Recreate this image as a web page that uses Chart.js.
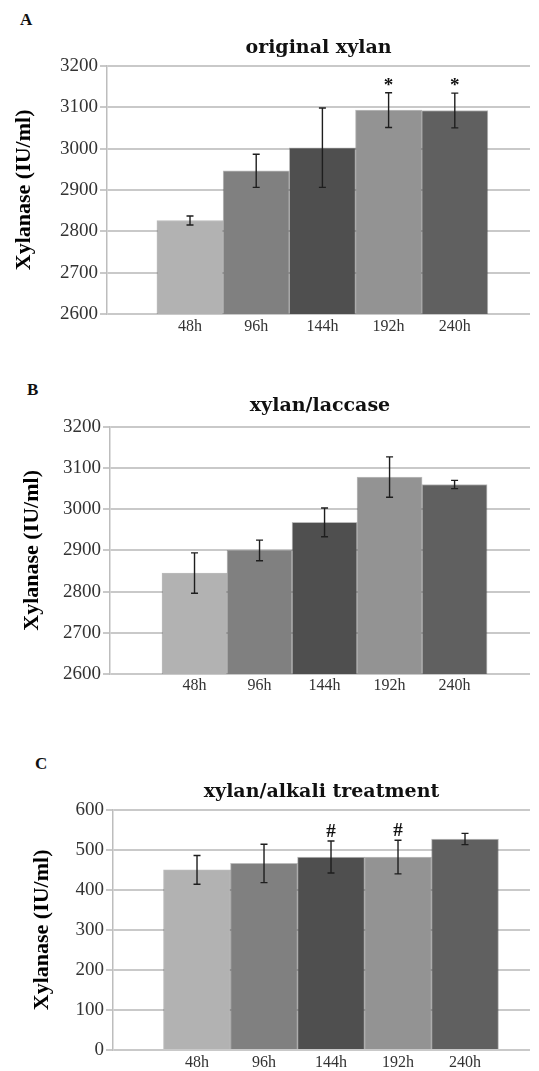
<!DOCTYPE html>
<html>
<head>
<meta charset="utf-8">
<script src="https://cdn.jsdelivr.net/npm/chart.js@4.4.0/dist/chart.umd.min.js"></script>
<style>
  html, body { margin: 0; padding: 0; background: #ffffff; }
  body { width: 539px; height: 1071px; position: relative; overflow: hidden; }
  .panel { position: absolute; left: 0; width: 539px; }
  .lbl { position: absolute; font: bold 17px "Liberation Serif", serif; color: #111; line-height: 1; }
</style>
</head>
<body>
<div class="lbl" style="left:20px;top:11px">A</div>
<div class="lbl" style="left:27px;top:381px">B</div>
<div class="lbl" style="left:35px;top:755px">C</div>
<div class="panel" style="top:0px;height:344px"><canvas id="cA" width="539" height="344"></canvas></div>
<div class="panel" style="top:360px;height:344px"><canvas id="cB" width="539" height="344"></canvas></div>
<div class="panel" style="top:740px;height:340px"><canvas id="cC" width="539" height="340"></canvas></div>
<script>
// ---- data ----
const categories = ['48h', '96h', '144h', '192h', '240h'];
const barColors = ['#b2b2b2', '#808080', '#4f4f4f', '#939393', '#606060'];

const originalXylan = [2826, 2946, 3002, 3093, 3092];
const originalXylanErr = [11, 40, 96, 42, 42];
const originalXylanMarks = ['', '', '', '*', '*'];

const xylanLaccase = [2845, 2900, 2968, 3078, 3060];
const xylanLaccaseErr = [49, 25, 35, 49, 10];
const xylanLaccaseMarks = ['', '', '', '', ''];

const xylanAlkali = [450, 466, 482, 482, 527];
const xylanAlkaliErr = [36, 48, 40, 42, 14];
const xylanAlkaliMarks = ['', '', '#', '#', ''];

const titles = ['original xylan', 'xylan/laccase', 'xylan/alkali treatment'];
const yTitle = 'Xylanase (IU/ml)';
const yRangeAB = [2600, 3200];
const yRangeC = [0, 600];
const yStep = 100;

// ---- plugin: error bars + significance marks ----
const errorBarPlugin = {
  id: 'errorBars',
  afterDatasetsDraw(chart, args, opts) {
    const { ctx } = chart;
    const xs = chart.scales.x, ys = chart.scales.y;
    const pts = chart.data.datasets[0].data;
    ctx.save();
    ctx.strokeStyle = '#1e1e1e';
    ctx.lineWidth = 1.4;
    pts.forEach((p, i) => {
      const e = opts.errors[i];
      const px = xs.getPixelForValue(p.x);
      const top = ys.getPixelForValue(p.y + e);
      const bot = ys.getPixelForValue(p.y - e);
      ctx.beginPath();
      ctx.moveTo(px, top); ctx.lineTo(px, bot);
      ctx.moveTo(px - 3.5, top); ctx.lineTo(px + 3.5, top);
      ctx.moveTo(px - 3.5, bot); ctx.lineTo(px + 3.5, bot);
      ctx.stroke();
      const m = (opts.marks || [])[i];
      if (m) {
        ctx.font = 'bold 19px "Liberation Serif", serif';
        ctx.fillStyle = '#111';
        ctx.textAlign = 'center';
        ctx.textBaseline = 'alphabetic';
        const tm = ctx.measureText(m);
        const target = top - 11;
        const base = target + (tm.actualBoundingBoxAscent - tm.actualBoundingBoxDescent) / 2;
        ctx.fillText(m, px, base);
      }
    });
    ctx.restore();
  }
};

function makeChart(id, values, errs, marks, title, yRange, cfg) {
  const data = values.map((v, i) => ({ x: i + 1, y: v }));
  return new Chart(document.getElementById(id), {
    type: 'bar',
    data: {
      datasets: [{
        data: data,
        backgroundColor: barColors,
        borderColor: 'rgba(60,60,60,0.35)',
        borderWidth: 1,
        categoryPercentage: 1,
        barPercentage: 1
      }]
    },
    plugins: [errorBarPlugin],
    options: {
      responsive: false,
      animation: false,
      devicePixelRatio: 1,
      layout: { padding: { top: cfg.padTop, right: 539 - cfg.right, bottom: 0, left: 0 } },
      plugins: {
        legend: { display: false },
        tooltip: { enabled: false },
        title: {
          display: true,
          text: title,
          fullSize: false,
          color: '#111',
          font: { family: '"DejaVu Serif", serif', size: 19, weight: 'bold' },
          padding: { top: 0, bottom: cfg.titleBottom }
        },
        errorBars: { errors: errs, marks: marks }
      },
      scales: {
        x: {
          type: 'linear',
          bounds: 'data',
          offset: false,
          min: cfg.xMin,
          max: cfg.xMax,
          grid: { display: false, drawTicks: false, offset: false },
          border: { display: false },
          afterBuildTicks: (s) => { s.ticks = categories.map((c, i) => ({ value: i + 1 })); },
          afterFit: (s) => { s.height = 30; },
          ticks: {
            autoSkip: false,
            includeBounds: false,
            maxRotation: 0,
            padding: cfg.xPad,
            color: '#333',
            font: { family: '"Liberation Serif", serif', size: 16 },
            callback: (v) => categories[Math.round(v) - 1] || ''
          }
        },
        y: {
          min: yRange[0],
          max: yRange[1],
          afterFit: (s) => { s.width = cfg.left; },
          grid: { color: '#c9c9c9', lineWidth: 2, tickLength: 7, drawTicks: true },
          border: { display: true, color: '#bdbdbd', width: 1.5 },
          ticks: {
            stepSize: yStep,
            padding: 2,
            color: '#333',
            font: { family: '"Liberation Serif", serif', size: 19 },
            callback: (v) => String(v)
          },
          title: {
            display: true,
            text: yTitle,
            color: '#000',
            font: { family: '"Liberation Serif", serif', size: 22, weight: 'bold' },
            padding: { top: cfg.yTitlePad, bottom: 0 }
          }
        }
      }
    }
  });
}

makeChart('cA', originalXylan, originalXylanErr, originalXylanMarks, titles[0], yRangeAB,
  { padTop: 37, titleBottom: 6, left: 107, right: 530, xMin: -0.254, xMax: 6.136, xPad: 3, yTitlePad: 11 });
makeChart('cB', xylanLaccase, xylanLaccaseErr, xylanLaccaseMarks, titles[1], yRangeAB,
  { padTop: 35, titleBottom: 9, left: 110, right: 530, xMin: -0.3, xMax: 6.16, xPad: 2, yTitlePad: 19 });
makeChart('cC', xylanAlkali, xylanAlkaliErr, xylanAlkaliMarks, titles[2], yRangeC,
  { padTop: 41, titleBottom: 6, left: 113, right: 530, xMin: -0.254, xMax: 5.97, xPad: 3, yTitlePad: 29 });
</script>
</body>
</html>
